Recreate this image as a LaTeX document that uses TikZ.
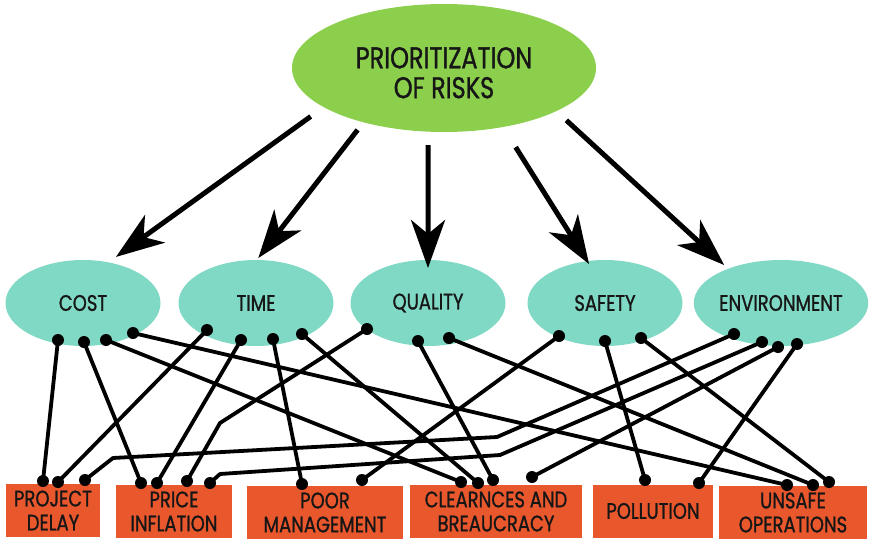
\documentclass[tikz,border=0pt]{standalone}
\usepackage{fontspec}
\setmainfont{Poppins}[FakeStretch=0.8,FakeBold=1]
\usetikzlibrary{arrows.meta,shapes.geometric}
\definecolor{riskgreen}{HTML}{8CCF4D}
\definecolor{areateal}{HTML}{80D9C4}
\definecolor{effectred}{HTML}{E9572D}
\definecolor{ink}{HTML}{161616}

\begin{document}
\begin{tikzpicture}[x=1pt,y=-1pt,
  topnode/.style={ellipse, fill=riskgreen, minimum width=304pt, minimum height=128pt,
    inner sep=0pt, outer sep=0pt, text=ink, font=\fontsize{30}{29}\selectfont},
  area/.style={ellipse, fill=areateal, minimum width=155pt, minimum height=86pt,
    inner sep=0pt, outer sep=0pt, text=ink, font=\fontsize{22.5}{24}\selectfont},
  effect/.style={rectangle, fill=effectred, minimum height=53pt, inner sep=0pt,
    outer sep=0pt, align=center, text=ink, font=\fontsize{22.5}{24}\selectfont},
  pin/.style={circle, fill=black, minimum size=12pt, inner sep=0pt, outer sep=0pt},
  link/.style={line width=3.8pt, line join=round},
  push/.style={line width=5pt, -{Stealth[length=48pt,width=34pt,inset=14pt]}},
]
\useasboundingbox (0,0) rectangle (871,541);

% main goal (text set a little below the centre of the ellipse)
\node[topnode] (top) at (444,68)
  {\raisebox{-9pt}[\height][\depth]{\begin{tabular}{@{}c@{}}PRIORITIZATION\\OF RISKS\end{tabular}}};

% risk areas
\node[area] (cost)    at (83,303)  {COST};
\node[area] (time)    at (256,303) {TIME};
\node[area] (quality) at (428,303) {QUALITY};
\node[area] (safety)  at (605,303) {SAFETY};
\node[area] (env)     at (781,303) {ENVIRONMENT};

% risk effects
\node[effect, minimum width=94pt]  (delay)  at (53,510.5)  {PROJECT\\DELAY};
\node[effect, minimum width=116pt] (price)  at (174,511.5) {PRICE\\INFLATION};
\node[effect, minimum width=156pt] (mgmt)   at (325,512.5) {POOR\\MANAGEMENT};
\node[effect, minimum width=172pt] (clear)  at (496,511.5) {CLEARNCES AND\\BREAUCRACY};
\node[effect, minimum width=120pt] (pollut) at (653,511)   {POLLUTION};
\node[effect, minimum width=148pt] (unsafe) at (793,512.5) {UNSAFE\\OPERATIONS};

% connection pins on the risk areas
\node[pin] (c1) at (58,340) {};  \node[pin] (c2) at (84,342) {};
\node[pin] (c3) at (106,340) {}; \node[pin] (c4) at (133,333) {};
\node[pin] (t1) at (207,330) {}; \node[pin] (t2) at (241,340) {};
\node[pin] (t3) at (273,339) {}; \node[pin] (t4) at (302,334) {};
\node[pin] (q1) at (367,329) {}; \node[pin] (q2) at (418,341) {};
\node[pin] (q3) at (449,338) {};
\node[pin] (s1) at (559,336) {}; \node[pin] (s2) at (605,341) {};
\node[pin] (s3) at (641,338) {};
\node[pin] (e1) at (734,334) {}; \node[pin] (e2) at (762,342) {};
\node[pin] (e3) at (778,347) {}; \node[pin] (e4) at (797,344) {};

% connection pins on the effects
\node[pin] (pd1) at (43,481) {};  \node[pin] (pd2) at (58,482) {};
\node[pin] (pd3) at (85,480) {};
\node[pin] (pi1) at (141,483) {}; \node[pin] (pi2) at (157,483) {};
\node[pin] (pi3) at (187,481) {}; \node[pin] (pi4) at (210,483) {};
\node[pin] (pm1) at (302,484) {}; \node[pin] (pm2) at (362,480) {};
\node[pin] (cl1) at (461,482) {}; \node[pin] (cl2) at (478,483) {};
\node[pin] (cl3) at (493,480) {}; \node[pin] (cl4) at (532,477) {};
\node[pin] (po1) at (645,480) {}; \node[pin] (po2) at (699,483) {};
\node[pin] (u1) at (787,485) {};  \node[pin] (u2) at (813,485) {};
\node[pin] (u3) at (829,482) {};

% bend points of the routed links
\coordinate (qbend) at (220,423);
\coordinate (e1bend) at (497,437);
\coordinate (e1low) at (113,458);
\coordinate (e2bend) at (500,455);
\coordinate (e2low) at (220,474);

% links between areas and effects
\draw[link] (c1.center) -- (pd1.center);
\draw[link] (c2.center) -- (pi1.center);
\draw[link] (c3.center) -- (cl1.center);
\draw[link] (c4.center) -- (u1.center);
\draw[link] (t1.center) -- (pd2.center);
\draw[link] (t2.center) -- (pi2.center);
\draw[link] (t3.center) -- (pm1.center);
\draw[link] (t4.center) -- (cl2.center);
\draw[link] (q1.center) -- (qbend) -- (pi3.center);
\draw[link] (q2.center) -- (cl3.center);
\draw[link] (q3.center) -- (u2.center);
\draw[link] (s1.center) -- (pm2.center);
\draw[link] (s2.center) -- (po1.center);
\draw[link] (s3.center) -- (u3.center);
\draw[link] (e1.center) -- (e1bend) -- (e1low) -- (pd3.center);
\draw[link] (e2.center) -- (e2bend) -- (e2low) -- (pi4.center);
\draw[link] (e3.center) -- (cl4.center);
\draw[link] (e4.center) -- (po2.center);

% arrows from the goal to the risk areas
\draw[push, shorten <=16pt, shorten >=9.3pt]   (top.198.4) -- (cost.58);
\draw[push, shorten <=9.6pt, shorten >=2.5pt]  (top.214.2) -- (time.89);
\draw[push, shorten <=13.4pt, shorten >=-8pt]  (top.256)   -- (quality.90);
\draw[push, shorten <=23.8pt, shorten >=-3.4pt](top.315.9) -- (safety.113);
\draw[push, shorten <=13.6pt, shorten >=5.5pt] (top.339.3) -- (env.147.7);
\end{tikzpicture}
\end{document}
